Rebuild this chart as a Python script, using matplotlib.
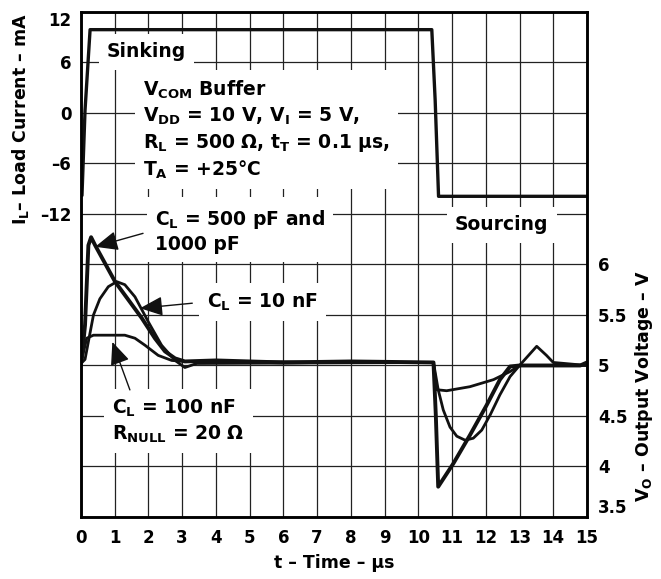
import numpy as np
import matplotlib
matplotlib.use("Agg")
import matplotlib.pyplot as plt

DPI = 100
IMG_SIZE = (661, 579)  # (width, height)
FS_TICK = 12
FS_TEXT = 13.5

plt.rcParams["font.family"] = ["DejaVu Sans"]
plt.rcParams["font.weight"] = "bold"
plt.rcParams["font.size"] = FS_TEXT
plt.rcParams["mathtext.fontset"] = "custom"
plt.rcParams["mathtext.rm"] = "DejaVu Sans:bold"
plt.rcParams["mathtext.it"] = "DejaVu Sans:bold"
plt.rcParams["mathtext.bf"] = "DejaVu Sans:bold"
plt.rcParams["mathtext.sf"] = "DejaVu Sans:bold"

# load current (mA) vs time (us)
t_current = [0.0, 0.03, 0.12, 0.27, 10.4, 10.5, 10.6, 15.0]
i_current = [-9.8, -9.8, 0.3, 9.9, 9.9, 1.5, -9.9, -9.9]

# output voltage, CL = 500 pF and 1000 pF
t_cl500 = [0.0, 0.02, 0.12, 0.22, 0.3, 0.42, 1.01, 1.8, 2.19, 2.49, 2.79, 3.08, 4.0, 6.0, 8.0, 10.45,
           10.52, 10.59, 11.04, 11.53, 12.03, 12.42, 12.72, 13.0, 14.0, 14.8, 15.0]
v_cl500 = [5.02, 5.05, 5.4, 6.19, 6.27, 6.19, 5.83, 5.47, 5.27, 5.14, 5.07, 5.04, 5.05, 5.03, 5.04, 5.03,
           4.5, 3.8, 4.03, 4.31, 4.61, 4.86, 4.99, 5.0, 5.0, 5.0, 5.03]

# output voltage, CL = 10 nF
t_cl10n = [0.0, 0.12, 0.37, 0.56, 0.81, 1.06, 1.3, 1.6, 2.0, 2.39, 2.79, 3.08, 3.43, 10.45,
           10.59, 10.74, 10.94, 11.14, 11.39, 11.63, 11.88, 12.13, 12.42, 12.72, 13.0, 13.51, 13.8, 14.0, 15.0]
v_cl10n = [5.02, 5.06, 5.5, 5.66, 5.78, 5.83, 5.8, 5.68, 5.43, 5.2, 5.05, 4.98, 5.02, 5.03,
           4.76, 4.56, 4.39, 4.3, 4.26, 4.28, 4.36, 4.51, 4.71, 4.89, 5.0, 5.19, 5.1, 5.03, 5.0]

# output voltage, CL = 100 nF, RNULL = 20 ohm
t_cl100n = [0.0, 0.02, 0.17, 0.37, 0.81, 1.3, 1.6, 1.9, 2.29, 2.69, 3.08, 10.45,
            10.55, 10.84, 11.53, 12.23, 12.72, 13.0, 15.0]
v_cl100n = [5.02, 5.05, 5.27, 5.3, 5.3, 5.3, 5.27, 5.2, 5.1, 5.05, 5.04, 5.03,
            4.76, 4.75, 4.79, 4.86, 4.94, 5.0, 5.0]

x_ticks = list(range(0, 16))
i_ticks = [12, 6, 0, -6, -12]
v_ticks = [3.5, 4, 4.5, 5, 5.5, 6]
v_labels = ["3.5", "4", "4.5", "5", "5.5", "6"]

fig = plt.figure(figsize=(IMG_SIZE[0] / DPI, IMG_SIZE[1] / DPI), dpi=DPI)
ax = fig.add_axes([0.1225, 0.1071, 0.7655, 0.8722])
ax2 = ax.twinx()

# 10 divisions: 6 mA each on the left, 0.5 V each on the right
ax.set_xlim(0, 15)
ax.set_ylim(-48, 12)
ax2.set_ylim(3.5, 8.5)

grid_i = np.arange(-48, 13, 6)
ax.set_xticks(x_ticks)
ax.set_yticks(grid_i)
ax.set_yticklabels([str(v).replace("-", "\u2013") if v in i_ticks else "" for v in grid_i])
ax2.set_yticks(v_ticks)
ax2.set_yticklabels(v_labels)
ax.tick_params(length=0, pad=7, labelsize=FS_TICK)
ax.tick_params(axis="x", pad=9)
ax2.tick_params(length=0, pad=8, labelsize=FS_TICK)
ax.grid(True, color="#222222", lw=0.9)
ax.set_axisbelow(True)
for a in (ax, ax2):
    for s in a.spines.values():
        s.set_linewidth(1.8)
# end labels sit inside the frame
ax.get_yticklabels()[-1].set_verticalalignment("top")
ax2.get_yticklabels()[0].set_verticalalignment("bottom")

ax.plot(t_current, i_current, color="#111111", lw=2.4, solid_joinstyle="round")
ax2.plot(t_cl500, v_cl500, color="#111111", lw=2.8, solid_joinstyle="round")
ax2.plot(t_cl10n, v_cl10n, color="#111111", lw=2.0, solid_joinstyle="round")
ax2.plot(t_cl100n, v_cl100n, color="#111111", lw=2.0, solid_joinstyle="round")

box = dict(facecolor="white", edgecolor="none", pad=6)
ax.text(0.77, 7.25, "Sinking", ha="left", va="center", bbox=box)
ax.text(1.84, -2.0,
        "V$_{COM}$ Buffer\n"
        "V$_{DD}$ = 10 V, V$_{I}$ = 5 V,\n"
        "R$_{L}$ = 500 \u03a9, t$_{T}$ = 0.1 \u03bcs,\n"
        "T$_{A}$ = +25\u00b0C",
        ha="left", va="center", linespacing=1.3, bbox=box)
ax.text(2.19, -14.0, "C$_{L}$ = 500 pF and\n1000 pF", ha="left", va="center", linespacing=1.3, bbox=box)
ax.text(3.74, -22.5, "C$_{L}$ = 10 nF", ha="left", va="center", bbox=box)
ax.text(0.92, -36.6, "C$_{L}$ = 100 nF\nR$_{NULL}$ = 20 \u03a9", ha="left", va="center", linespacing=1.3, bbox=box)
ax.text(11.09, -13.3, "Sourcing", ha="left", va="center", bbox=box)

arrow = dict(arrowstyle="-|>,head_length=0.7,head_width=0.3", color="#111111", lw=1.0, mutation_scale=20, shrinkA=0, shrinkB=0)
ax.annotate("", xy=(0.42, -15.9), xytext=(1.84, -14.3), arrowprops=arrow)
ax.annotate("", xy=(1.75, -23.2), xytext=(3.3, -22.6), arrowprops=arrow)
ax.annotate("", xy=(0.93, -27.2), xytext=(1.45, -32.9), arrowprops=arrow)

fig.text(0.031, 0.794, "I$_{L}$\u2013 Load Current \u2013 mA", rotation=90, ha="center", va="center", fontsize=12.5)
fig.text(0.974, 0.333, "V$_{O}$ \u2013 Output Voltage \u2013 V", rotation=90, ha="center", va="center", fontsize=12.5)
fig.text(0.505, 0.028, "t \u2013 Time \u2013 \u03bcs", ha="center", va="center", fontsize=12.5)

fig.savefig("out.png", dpi=DPI)
